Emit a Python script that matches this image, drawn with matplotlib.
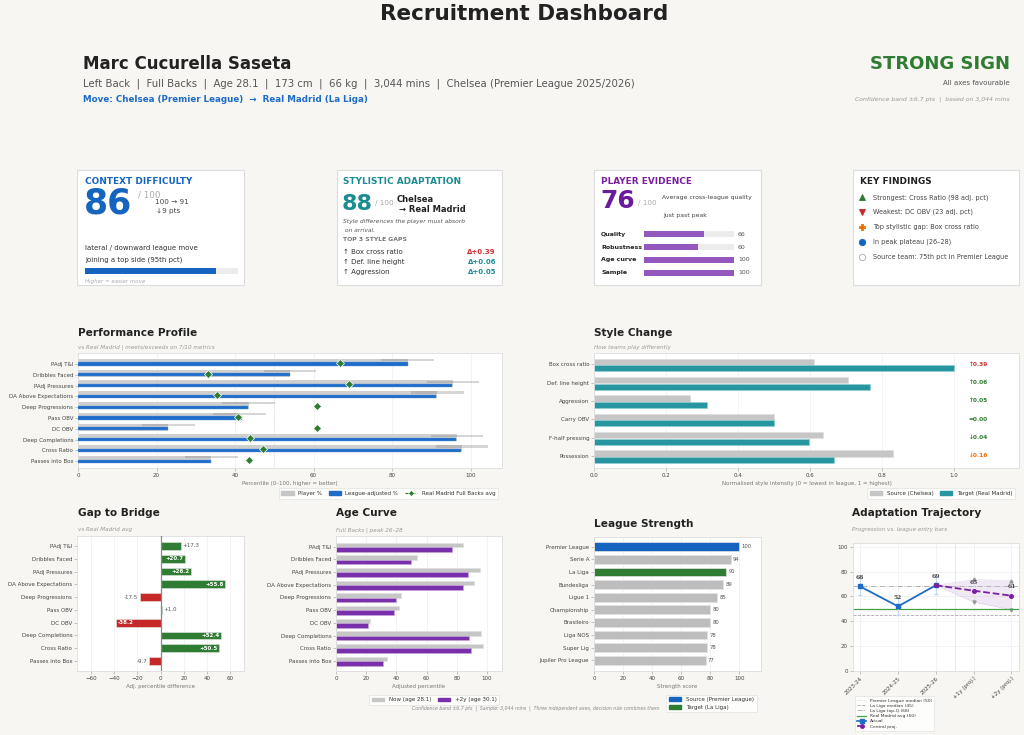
import matplotlib
matplotlib.use('Agg')
import matplotlib.pyplot as plt
from matplotlib.patches import Rectangle, Patch
from matplotlib.lines import Line2D

W, H = 1024, 735
BG = '#f7f6f2'
BLUE = '#1e6bc8'
TEAL = '#1c8c93'
TEAL_BAR = '#2796a0'
PURPLE = '#6a1b9a'
PURPLE_BAR = '#9457bd'
PURPLE_AGE = '#7b30ab'
GREEN = '#2e7d32'
RED = '#c62828'
GRAY_BAR = '#c6c6c6'

# ---------------- data ----------------
metrics = ['PAdj T&I', 'Dribbles Faced', 'PAdj Pressures', 'DA Above Expectations',
           'Deep Progressions', 'Pass OBV', 'DC OBV', 'Deep Completions',
           'Cross Ratio', 'Passes into Box']
player_pct = [84.0, 54.0, 95.5, 91.5, 43.5, 41.2, 23.0, 96.5, 97.8, 34.0]
adjusted_pct = [84.0, 53.9, 95.3, 91.2, 43.4, 41.8, 22.8, 96.2, 97.5, 33.9]
rm_avg = [66.7, 33.2, 69.1, 35.4, 60.9, 40.8, 61.0, 43.8, 47.0, 43.6]
gap_values = [17.3, 20.7, 26.2, 55.8, -17.5, 1.0, -38.2, 52.4, 50.5, -9.7]
conf_band = 6.7
now_pct = [84.0, 53.8, 95.4, 91.2, 43.3, 42.0, 22.6, 96.0, 97.4, 33.8]
plus2_pct = [76.9, 49.5, 87.5, 84.0, 40.0, 38.5, 20.9, 88.4, 89.5, 31.0]

style_dims = ['Box cross ratio', 'Def. line height', 'Aggression', 'Carry OBV',
              'F-half pressing', 'Possession']
style_source = [0.61, 0.705, 0.266, 0.50, 0.637, 0.831]
style_target = [1.00, 0.765, 0.315, 0.50, 0.597, 0.667]
style_delta_labels = ['↑0.39', '↑0.06', '↑0.05', '=0.00', '↓0.04', '↓0.16']
style_delta_colors = ['#d32f2f', GREEN, GREEN, GREEN, GREEN, '#ef6c00']

leagues = ['Premier League', 'Serie A', 'La Liga', 'Bundesliga', 'Ligue 1',
           'Championship', 'Brasileiro', 'Liga NOS', 'Super Lig', 'Jupiler Pro League']
league_scores = [100, 94, 91, 89, 85, 80, 80, 78, 78, 77]
source_league = 'Premier League'
target_league = 'La Liga'

seasons = ['2023-24', '2024-25', '2025-26', '+1y (proj.)', '+2y (proj.)']
actual = [68, 52, 69]
proj_central = [69, 64.6, 60.6]
proj_upper = [69, 73.7, 72.6]
proj_lower = [69, 55.5, 49.3]
pl_median = 50
laliga_median = 45
laliga_topq = 68
rm_team_avg = 50

evidence_labels = ['Quality', 'Robustness', 'Age curve', 'Sample']
evidence_values = [66, 60, 100, 100]
context_score = 86
style_score = 88
evidence_score = 76

style_gap_names = ['Box cross ratio', 'Def. line height', 'Aggression']
style_gap_deltas = ['Δ+0.39', 'Δ+0.06', 'Δ+0.05']
style_gap_colors = ['#d32f2f', TEAL, TEAL]

findings = [
    ('^', GREEN, 'Strongest: Cross Ratio (98 adj. pct)'),
    ('v', '#c62828', 'Weakest: DC OBV (23 adj. pct)'),
    ('P', '#ef6c00', 'Top stylistic gap: Box cross ratio'),
    ('o', '#1565c0', 'In peak plateau (26–28)'),
    ('o', 'white', 'Source team: 75th pct in Premier League'),
]

# ---------------- figure ----------------
fig = plt.figure(figsize=(W / 100, H / 100), dpi=100)
fig.patch.set_facecolor(BG)


def ftext(x, y, s, **kw):
    kw.setdefault('va', 'center')
    kw.setdefault('ha', 'left')
    return fig.text(x / W, 1 - y / H, s, **kw)


def ax_px(l, t, r, b):
    return fig.add_axes([l / W, 1 - b / H, (r - l) / W, (b - t) / H])


def card(l, t, r, b):
    fig.patches.append(Rectangle((l / W, 1 - b / H), (r - l) / W, (b - t) / H,
                                 transform=fig.transFigure, facecolor='white',
                                 edgecolor='#dcdcdc', lw=0.8, zorder=-5))


def style_ax(ax, gridaxis='x'):
    ax.set_facecolor('white')
    for s in ax.spines.values():
        s.set_color('#dddddd')
        s.set_linewidth(0.6)
    ax.tick_params(labelsize=4, length=2, width=0.4, color='#999999',
                   labelcolor='#444444', pad=1.5)
    ax.grid(axis=gridaxis, color='#eeeeee', lw=0.5)
    ax.set_axisbelow(True)


def leg(ax, handles, **kw):
    kw.setdefault('handlelength', 2.2)
    kw.setdefault('fontsize', 4)
    lg = ax.legend(handles=handles, frameon=True, fancybox=False,
                   edgecolor='#dddddd', facecolor='white', borderpad=0.5, **kw)
    lg.get_frame().set_linewidth(0.5)
    for t in lg.get_texts():
        t.set_color('#333333')
    return lg


# ---------------- header ----------------
ftext(524, 14, 'Recruitment Dashboard', ha='center', fontsize=15.5, fontweight='bold', color='#222222')
ftext(83, 64, 'Marc Cucurella Saseta', fontsize=12, fontweight='bold', color='#222222')
ftext(83, 84, 'Left Back  |  Full Backs  |  Age 28.1  |  173 cm  |  66 kg  |  3,044 mins  |  Chelsea (Premier League 2025/2026)',
      fontsize=7.3, color='#555555')
ftext(83, 100, 'Move: Chelsea (Premier League)  →  Real Madrid (La Liga)', fontsize=6.3,
      fontweight='bold', color='#1e6bc8')
ftext(1010, 64, 'STRONG SIGN', ha='right', fontsize=13, fontweight='bold', color=GREEN)
ftext(1010, 83, 'All axes favourable', ha='right', fontsize=5, color='#555555')
ftext(1010, 99, 'Confidence band ±6.7 pts  |  based on 3,044 mins', ha='right', fontsize=4.4,
      style='italic', color='#999999')

# ---------------- cards ----------------
card(77, 170, 244, 285)
card(337, 170, 502, 285)
card(594, 170, 761, 285)
card(853, 170, 1019, 285)

# card 1
ftext(85, 182, 'CONTEXT DIFFICULTY', fontsize=6.4, fontweight='bold', color='#1565c0')
ftext(84, 203, f'{context_score}', fontsize=25, fontweight='bold', color='#1565c0')
ftext(138, 195, '/ 100', fontsize=6.3, color='#aaaaaa')
ftext(155, 202, '100 → 91', fontsize=5.2, color='#444444')
ftext(156, 211, '↓9 pts', fontsize=5.2, color='#444444')
ftext(85, 248, 'lateral / downward league move', fontsize=5.0, color='#333333')
ftext(85, 259.5, 'joining a top side (95th pct)', fontsize=5.0, color='#333333')
ax_c1 = ax_px(84.5, 268.5, 237.5, 274)
ax_c1.barh([0], [100], height=1, color='#ececec')
ax_c1.barh([0], [context_score], height=1, color='#1565c0')
ax_c1.set_xlim(0, 100)
ax_c1.set_ylim(-0.5, 0.5)
ax_c1.axis('off')
ftext(85, 281.5, 'Higher = easier move', fontsize=4, style='italic', color='#aaaaaa')

# card 2
ftext(343, 182, 'STYLISTIC ADAPTATION', fontsize=6.4, fontweight='bold', color=TEAL)
ftext(342, 203.5, f'{style_score}', fontsize=16, fontweight='bold', color=TEAL)
ftext(375, 203.5, '/ 100', fontsize=5.2, color='#aaaaaa')
ftext(397, 199, 'Chelsea', fontsize=6.0, fontweight='bold', color='#222222')
ftext(399, 209, '→ Real Madrid', fontsize=6.0, fontweight='bold', color='#222222')
ftext(343, 221, 'Style differences the player must absorb', fontsize=4.3, style='italic', color='#555555')
ftext(343, 230, ' on arrival.', fontsize=4.3, style='italic', color='#555555')
ftext(343, 240, 'TOP 3 STYLE GAPS', fontsize=4.4, fontweight='bold', color='#777777')
for i, (nm, dl, cl) in enumerate(zip(style_gap_names, style_gap_deltas, style_gap_colors)):
    y = 252 + i * 10.2
    ftext(343, y, '↑ ' + nm, fontsize=5.0, color='#333333')
    ftext(496, y, dl, ha='right', fontsize=5.0, fontweight='bold', color=cl)

# card 3
ftext(601, 182, 'PLAYER EVIDENCE', fontsize=6.4, fontweight='bold', color='#7b1fa2')
ftext(600, 200.5, f'{evidence_score}', fontsize=18, fontweight='bold', color=PURPLE)
ftext(638, 202.5, '/ 100', fontsize=5.2, color='#aaaaaa')
ftext(661.5, 198, 'Average cross-league quality', fontsize=4.4, color='#444444')
ftext(663, 216, 'Just past peak', fontsize=4.4, color='#444444')
ax_c3 = ax_px(644.3, 227.8, 734, 279.2)
ax_c3.barh(range(4), [100] * 4, height=0.45, color='#ececec')
ax_c3.barh(range(4), evidence_values, height=0.45, color=PURPLE_BAR)
ax_c3.set_xlim(0, 100)
ax_c3.set_ylim(3.5, -0.5)
ax_c3.axis('off')
for i, (lb, v) in enumerate(zip(evidence_labels, evidence_values)):
    y = 234.2 + i * 12.85
    ftext(601, y, lb, fontsize=4.5, fontweight='bold', color='#222222')
    ftext(738, y, f'{v}', fontsize=4.5, color='#555555')

# card 4
ftext(860, 182, 'KEY FINDINGS', fontsize=6.4, fontweight='bold', color='#222222')
for i, (mk, cl, tx) in enumerate(findings):
    y = 197.3 + i * 14.85
    ec = '#aaaaaa' if cl == 'white' else cl
    fig.add_artist(Line2D([862.3 / W], [1 - y / H], marker=mk, markersize=4.2 if mk != 'o' else 4.6,
                          markerfacecolor=cl, markeredgecolor=ec, markeredgewidth=0.6,
                          linestyle='none', transform=fig.transFigure))
    ftext(872.7, y, tx, fontsize=4.7, color='#444444')

# ---------------- Performance Profile ----------------
ftext(78, 333, 'Performance Profile', fontsize=7.6, fontweight='bold', color='#222222')
ftext(78, 347, 'vs Real Madrid | meets/exceeds on 7/10 metrics', fontsize=4.1, style='italic', color='#999999')
ax1 = ax_px(78, 353, 502, 468)
style_ax(ax1)
yy = list(range(len(metrics)))
ax1.barh([y - 0.165 for y in yy], player_pct, height=0.65, color='#cfcfcf', zorder=2)
ax1.barh([y - 0.37 for y in yy], [2 * conf_band] * len(yy), left=[p - conf_band for p in player_pct],
         height=0.2, color='#8a8a8a', alpha=0.35, zorder=3)
ax1.barh(yy, adjusted_pct, height=0.3, color=BLUE, edgecolor='#5f97dc', lw=0.3, zorder=4)
ax1.plot(rm_avg, [y - 0.12 for y in yy], ls='none', marker='D', ms=3.6, color=GREEN,
         markeredgecolor='white', markeredgewidth=0.5, zorder=5)
ax1.axvline(50, color='#bbbbbb', lw=0.5, ls=':', zorder=1)
ax1.set_xlim(0, 108)
ax1.set_ylim(9.62, -1.02)
ax1.set_yticks(yy)
ax1.set_yticklabels(metrics)
ax1.set_xticks([0, 20, 40, 60, 80, 100])
ax1.set_xlabel('Percentile (0–100, higher = better)', fontsize=4, color='#777777', labelpad=2)
leg(ax1, [Patch(color='#c6c6c6', label='Player %'),
          Patch(color=BLUE, label='League-adjusted %'),
          Line2D([], [], color=GREEN, ls='--', marker='D', ms=3, lw=0.8,
                 markeredgecolor='white', markeredgewidth=0.4, label='Real Madrid Full Backs avg')],
    loc='upper right', bbox_to_anchor=(0.997, -0.15), ncol=3, columnspacing=1.2)

# ---------------- Style Change ----------------
ftext(594, 333, 'Style Change', fontsize=7.6, fontweight='bold', color='#222222')
ftext(594, 347, 'How teams play differently', fontsize=4.1, style='italic', color='#999999')
ax2 = ax_px(594, 353, 1019, 468)
style_ax(ax2)
ys = list(range(len(style_dims)))
ax2.barh([y - 0.13 for y in ys], style_source, height=0.34, color=GRAY_BAR, edgecolor='#dddddd', lw=0.4)
ax2.barh([y + 0.22 for y in ys], style_target, height=0.34, color=TEAL_BAR, edgecolor='#8fd0d4', lw=0.4)
for y, lb, cl in zip(ys, style_delta_labels, style_delta_colors):
    ax2.text(1.067, y, lb, fontsize=4.2, fontweight='bold', color=cl, ha='center', va='center')
ax2.set_xlim(0, 1.18)
ax2.set_ylim(5.66, -0.62)
ax2.set_yticks(ys)
ax2.set_yticklabels(style_dims)
ax2.set_xticks([0, 0.2, 0.4, 0.6, 0.8, 1.0])
ax2.set_xticklabels(['0.0', '0.2', '0.4', '0.6', '0.8', '1.0'])
ax2.set_xlabel('Normalised style intensity (0 = lowest in league, 1 = highest)', fontsize=4,
               color='#777777', labelpad=2)
leg(ax2, [Patch(color=GRAY_BAR, label='Source (Chelsea)'),
          Patch(color=TEAL_BAR, label='Target (Real Madrid)')],
    loc='upper right', bbox_to_anchor=(0.997, -0.15), ncol=2, columnspacing=1.2)

# ---------------- Gap to Bridge ----------------
ftext(78, 513, 'Gap to Bridge', fontsize=7.6, fontweight='bold', color='#222222')
ftext(78, 530, 'vs Real Madrid avg', fontsize=4.1, style='italic', color='#999999')
ax3 = ax_px(77, 536, 244, 671)
style_ax(ax3)
colors_gap = [GREEN if v >= 0 else RED for v in gap_values]
ax3.barh(yy, gap_values, height=0.6, color=colors_gap, edgecolor='#e8e8e8', lw=0.4, zorder=2)
ax3.axvline(0, color='#888888', lw=0.9, zorder=3)
for y, v in zip(yy, gap_values):
    lab = f'{v:+.1f}'
    if abs(v) >= 20:
        ax3.text(v - 1.2 if v > 0 else v + 1.2, y, lab, ha='right' if v > 0 else 'left', va='center',
                 fontsize=4, fontweight='bold', color='white', zorder=4)
    else:
        ax3.text(v + 1.5 if v >= 0 else v - 1.5, y, lab, ha='left' if v >= 0 else 'right', va='center',
                 fontsize=4, color='#555555', zorder=4)
ax3.set_xlim(-72, 72)
ax3.set_ylim(9.78, -0.78)
ax3.set_yticks(yy)
ax3.set_yticklabels(metrics)
ax3.set_xticks([-60, -40, -20, 0, 20, 40, 60])
ax3.set_xticklabels(['−60', '−40', '−20', '0', '20', '40', '60'])
ax3.set_xlabel('Adj. percentile difference', fontsize=4, color='#777777', labelpad=2)

# ---------------- Age Curve ----------------
ftext(336, 513, 'Age Curve', fontsize=7.6, fontweight='bold', color='#222222')
ftext(336, 530, 'Full Backs | peak 26–28', fontsize=4.1, style='italic', color='#999999')
ax4 = ax_px(336, 536, 502, 671)
style_ax(ax4)
ax4.barh([y - 0.16 for y in yy], now_pct, height=0.33, color=GRAY_BAR, edgecolor='#e0e0e0', lw=0.4)
ax4.barh([y + 0.2 for y in yy], plus2_pct, height=0.36, color=PURPLE_AGE, edgecolor='#c9a6de', lw=0.4)
ax4.set_xlim(0, 110)
ax4.set_ylim(9.8, -0.85)
ax4.set_yticks(yy)
ax4.set_yticklabels(metrics)
ax4.set_xticks([0, 20, 40, 60, 80, 100])
ax4.set_xlabel('Adjusted percentile', fontsize=4, color='#777777', labelpad=2)
leg(ax4, [Patch(color=GRAY_BAR, label='Now (age 28.1)'),
          Patch(color=PURPLE_AGE, label='+2y (age 30.1)')],
    loc='upper right', bbox_to_anchor=(1.0, -0.155), ncol=2, columnspacing=1.2)

# ---------------- League Strength ----------------
ftext(594, 524, 'League Strength', fontsize=7.6, fontweight='bold', color='#222222')
ax5 = ax_px(594, 537, 761, 671)
style_ax(ax5)
yl = list(range(len(leagues)))
lcols = ['#1565c0' if lg == source_league else (GREEN if lg == target_league else '#bdbdbd') for lg in leagues]
ax5.barh(yl, league_scores, height=0.69, color=lcols, edgecolor='#e4e4e4', lw=0.5)
for y, v in zip(yl, league_scores):
    ax5.text(v + 1.5, y, f'{v}', va='center', ha='left', fontsize=3.8, color='#555555')
ax5.set_xlim(0, 115)
ax5.set_ylim(9.85, -0.77)
ax5.set_yticks(yl)
ax5.set_yticklabels(leagues)
ax5.set_xticks([0, 20, 40, 60, 80, 100])
ax5.set_xlabel('Strength score', fontsize=4, color='#777777', labelpad=2)
leg(ax5, [Patch(color='#1565c0', label='Source (Premier League)'),
          Patch(color=GREEN, label='Target (La Liga)')],
    loc='upper right', bbox_to_anchor=(0.99, -0.155), ncol=1, labelspacing=0.4)

# ---------------- Adaptation Trajectory ----------------
ftext(852, 513, 'Adaptation Trajectory', fontsize=7.6, fontweight='bold', color='#222222')
ftext(852, 530, 'Progression vs. league entry bars', fontsize=4.1, style='italic', color='#999999')
ax6 = ax_px(852.7, 543, 1019, 671)
style_ax(ax6, gridaxis='both')
xa = [0, 1, 2]
xp = [2, 3, 4]
ax6.axvline(2.5, color='#e4e4e4', lw=0.6)
ax6.fill_between(xp, proj_lower, proj_upper, color='#8e44ad', alpha=0.12, lw=0)
ax6.plot(xp, proj_upper, color='#b9a3c9', lw=0.4, ls=':')
ax6.plot(xp, proj_lower, color='#b9a3c9', lw=0.4, ls=':')
ax6.plot(xp[1:], proj_upper[1:], ls='none', marker='^', ms=2.2, color='#999999')
ax6.plot(xp[1:], proj_lower[1:], ls='none', marker='v', ms=2.2, color='#999999')
ax6.axhline(pl_median, color='#cccccc', lw=0.6, ls=':')
ax6.axhline(laliga_median, color='#aaaaaa', lw=0.6, ls='--')
ax6.axhline(laliga_topq, color='#aaaaaa', lw=0.6, ls='-.')
ax6.axhline(rm_team_avg, color='#43a047', lw=0.9)
ax6.errorbar(xa, actual, yerr=conf_band, fmt='none', ecolor='#bcd6f2', elinewidth=0.6, capsize=1.2)
ax6.plot(xa, actual, color='#1e6bc8', lw=1.3, marker='s', ms=2.8, zorder=5)
ax6.plot(xp, proj_central, color='#7b1fa2', lw=1.3, ls='--', marker='o', ms=2.6, zorder=5)
for x, v in zip(xa, actual):
    ax6.text(x, v + 5, f'{v:.0f}', ha='center', va='bottom', fontsize=4.3, fontweight='bold',
             color='#444444', family='DejaVu Serif')
for x, v in zip(xp[1:], proj_central[1:]):
    ax6.text(x, v + 5, f'{v:.0f}', ha='center', va='bottom', fontsize=4.3, fontweight='bold',
             color='#444444', family='DejaVu Serif')
ax6.set_xlim(-0.2, 4.2)
ax6.set_ylim(0, 103)
ax6.set_xticks(range(len(seasons)))
ax6.set_xticklabels(seasons, rotation=45, ha='right', rotation_mode='anchor')
ax6.set_yticks([0, 20, 40, 60, 80, 100])
leg(ax6, [Line2D([], [], color='#cccccc', lw=0.6, ls=':', label=f'Premier League median ({pl_median})'),
          Line2D([], [], color='#aaaaaa', lw=0.6, ls='--', label=f'La Liga median ({laliga_median})'),
          Line2D([], [], color='#aaaaaa', lw=0.6, ls='-.', label=f'La Liga top-Q ({laliga_topq})'),
          Line2D([], [], color='#43a047', lw=0.9, label=f'Real Madrid avg ({rm_team_avg})'),
          Line2D([], [], color='#1e6bc8', lw=1.2, marker='s', ms=2.5, label='Actual'),
          Line2D([], [], color='#7b1fa2', lw=1.2, ls='--', marker='o', ms=2.5, label='Central proj.')],
    loc='upper left', bbox_to_anchor=(0.0, -0.18), ncol=1, labelspacing=0.25, handlelength=2.0,
    fontsize=3.2)

# ---------------- footer ----------------
ftext(536, 708, 'Confidence band ±6.7 pts  |  Sample: 3,044 mins  |  Three independent axes, decision rule combines them',
      ha='center', fontsize=3.35, style='italic', color='#888888')

fig.savefig('out.png', dpi=100, facecolor=BG)
